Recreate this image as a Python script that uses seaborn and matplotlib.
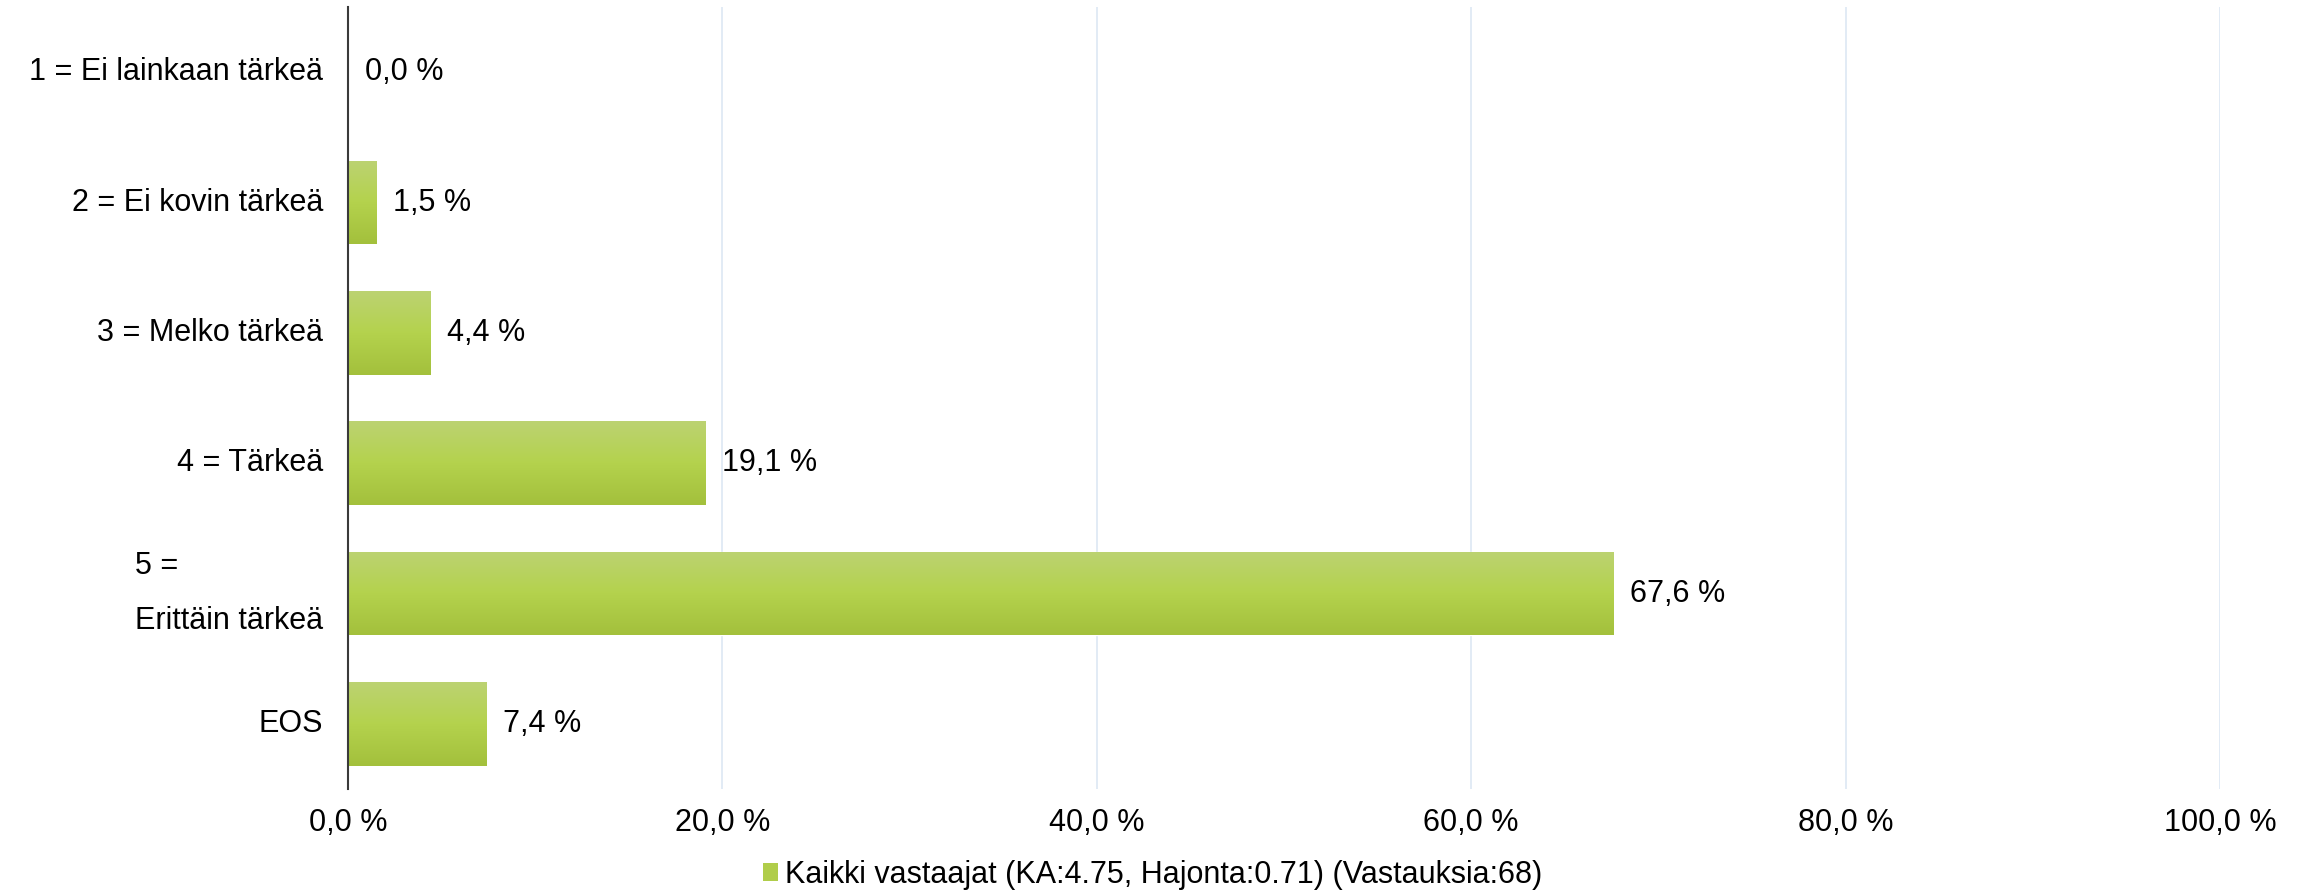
import numpy as np
import pandas as pd
import matplotlib
matplotlib.use('Agg')
import matplotlib.pyplot as plt
from matplotlib.colors import LinearSegmentedColormap
from matplotlib.patches import Patch
import seaborn as sns

# data
categories = ["1 = Ei lainkaan tärkeä", "2 = Ei kovin tärkeä", "3 = Melko tärkeä",
              "4 = Tärkeä", "5 =\nErittäin tärkeä", "EOS"]
percent = [0.0, 1.5, 4.4, 19.1, 67.6, 7.4]
x_ticks = [0, 20, 40, 60, 80, 100]
legend_label = "Kaikki vastaajat (KA:4.75, Hajonta:0.71) (Vastauksia:68)"

df = pd.DataFrame({"Vastaus": categories, "Osuus": percent})

sns.set_style("white")
plt.rcParams['font.family'] = ['Liberation Sans', 'DejaVu Sans']
plt.rcParams['text.color'] = 'black'
plt.rcParams['xtick.color'] = 'black'
plt.rcParams['ytick.color'] = 'black'
fs = 22

fig = plt.figure(figsize=(23.05, 8.92), dpi=100)
ax = fig.add_axes([348 / 2305, 1 - 789 / 892, (2220 - 348) / 2305, (789 - 7) / 892])

sns.barplot(data=df, x="Osuus", y="Vastaus", color="#b3d14e", width=0.64,
            saturation=1, ax=ax, zorder=3)

# vertical gradient on the bars, light on top
green = LinearSegmentedColormap.from_list("grn", ["#bcd372", "#b4d24d", "#a3c03c"])
grad = np.linspace(0, 1, 256).reshape(-1, 1)
for p in ax.patches:
    w = p.get_width()
    if w <= 0:
        continue
    x0, y0, h = p.get_x(), p.get_y(), p.get_height()
    im = ax.imshow(grad, cmap=green, aspect='auto', origin='upper',
                   extent=(x0, x0 + w, y0 + h, y0), zorder=4)
    im.set_clip_path(p)

# value labels
for i, v in enumerate(percent):
    ax.annotate(f"{v:.1f} %".replace('.', ','), xy=(v, i), xytext=(12, 0),
                textcoords='offset points', va='center', ha='left', fontsize=fs)

ax.set_xlim(0, 100)
ax.set_ylim(len(categories) - 0.5, -0.5)
ax.set_xticks(x_ticks)
ax.set_xticklabels([f"{t:.1f} %".replace('.', ',') for t in x_ticks], fontsize=fs)
ax.set_xlabel("")
ax.set_ylabel("")

for lab in ax.get_yticklabels():
    lab.set_fontsize(fs)
    lab.set_multialignment('left')
    lab.set_linespacing(2.1)
    lab.set_verticalalignment('center')

ax.tick_params(axis='y', length=0, pad=18)
ax.tick_params(axis='x', length=0, pad=14)

ax.grid(axis='x', color='#dde7f3', linewidth=1.2, zorder=0)
ax.grid(axis='y', visible=False)
for s in ['top', 'right', 'bottom']:
    ax.spines[s].set_visible(False)
ax.spines['left'].set_color('#3a3a3a')
ax.spines['left'].set_linewidth(1.5)
ax.spines['left'].set_zorder(6)

handle = Patch(facecolor='#b0cd4a', edgecolor='none')
fig.legend([handle], [legend_label], loc='center', bbox_to_anchor=(0.5, 0.019),
           frameon=False, fontsize=fs, handlelength=0.5, handleheight=0.5,
           handletextpad=0.2, borderpad=0)

fig.savefig("out.png", dpi=100)
